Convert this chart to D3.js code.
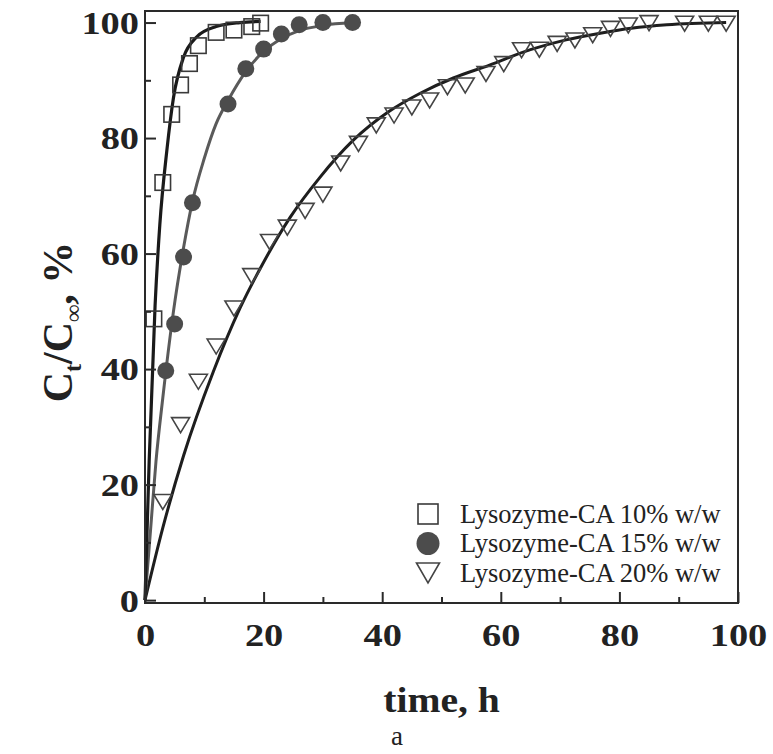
<!DOCTYPE html>
<html>
<head>
<meta charset="utf-8">
<script src="https://cdn.jsdelivr.net/npm/d3@7"></script>
<style>
  html, body { margin: 0; padding: 0; background: #fff; }
  svg { display: block; }
</style>
</head>
<body>
<svg id="chart" width="773" height="754"></svg>
<script>
// ---------- data ----------
const xTickValues = [0, 20, 40, 60, 80, 100];
const yTickValues = [0, 20, 40, 60, 80, 100];
const xMinorTicks = [10, 30, 50, 70, 90];
const yMinorTicks = [10, 30, 50, 70, 90];

const seriesNames = ["Lysozyme-CA 10% w/w", "Lysozyme-CA 15% w/w", "Lysozyme-CA 20% w/w"];

// 10% (open squares)
const t10 = [1.5, 3, 4.5, 6, 7.5, 9, 12, 15, 18, 19.5];
const y10 = [48.7, 72.3, 84.1, 89.2, 92.9, 96.0, 98.3, 98.7, 99.3, 99.9];

// 15% (filled circles)
const t15 = [3.5, 5, 6.5, 8, 14, 17, 20, 23, 26, 30, 35];
const y15 = [39.7, 47.8, 59.4, 68.8, 85.9, 92.0, 95.4, 98.0, 99.6, 100, 100];

// 20% (open down triangles)
const t20 = [3, 6, 9, 12, 15, 18, 21, 24, 27, 30, 33, 36, 39, 42, 45, 48, 51, 54, 57.5, 60.5,
             63.5, 66.5, 69.5, 72.5, 75.5, 78.5, 81.5, 85, 91, 95, 98];
const y20 = [17, 30.3, 37.8, 43.9, 50.5, 56.1, 62, 64.5, 67.4, 70.2, 75.6, 79, 82.2, 83.9, 85.3, 86.5,
             88.8, 89.1, 91.1, 92.8, 95.2, 95.3, 96.3, 96.9, 97.8, 98.9, 99.5, 99.9, 99.8, 99.8, 99.8];

// fitted curves, points
const fit10T = [0, 0.7, 1.7, 2.5, 3.7, 4.8, 6.5, 8.7, 12, 16, 19.5];
const fit10Y = [0, 24, 51, 65, 78, 87, 94, 97.5, 99.3, 100, 100.2];

const fit15T = [0, 1, 1.85, 3, 4.8, 6.5, 8, 10, 12, 14, 17, 20, 23, 26, 30, 35];
const fit15Y = [0, 13, 24, 35, 50, 61, 69, 76.5, 82.5, 86.5, 91.5, 95, 97.2, 98.6, 99.5, 100];

const fit20T = [0, 3, 6.5, 11.5, 16, 20, 24.5, 29.5, 35, 41, 46.5, 52, 58, 65, 71, 77, 82, 88, 98];
const fit20Y = [0, 12.5, 25, 39.5, 50.5, 58.5, 66.3, 73.2, 79.5, 84.5, 87.8, 90.4, 92.6, 95.3, 97, 98.2, 99, 99.6, 100];

// ---------- layout ----------
const svg = d3.select("#chart");
const L = 145, R = 738, T = 11, B = 603;

const x = d3.scaleLinear().domain([0, 100]).range([L, R]);
const y = d3.scaleLinear().domain([-0.5, 102]).range([B, T]);

const serif = "'Liberation Serif', 'Times New Roman', serif";
const axisColor = "#2a2a2a";

// ---------- lines ----------
const line = d3.line().x(d => x(d[0])).y(d => y(d[1])).curve(d3.curveMonotoneX);
const zip = (a, b) => a.map((v, i) => [v, b[i]]);

const gPlot = svg.append("g");
gPlot.append("path").attr("d", line(zip(fit20T, fit20Y)))
  .attr("fill", "none").attr("stroke", "#1e1e1e").attr("stroke-width", 3);
gPlot.append("path").attr("d", line(zip(fit15T, fit15Y)))
  .attr("fill", "none").attr("stroke", "#5a5a5a").attr("stroke-width", 3);
gPlot.append("path").attr("d", line(zip(fit10T, fit10Y)))
  .attr("fill", "none").attr("stroke", "#1a1a1a").attr("stroke-width", 3.2);

// ---------- markers ----------
const sq = 15.5, triW = 18, triH = 15, circR = 8.5;
function triPath(w, h) {
  return `M${-w/2},${-h/2}L${w/2},${-h/2}L0,${h/2}Z`;
}

gPlot.selectAll("rect.s10").data(zip(t10, y10)).join("rect")
  .attr("class", "s10")
  .attr("x", d => x(d[0]) - sq/2).attr("y", d => y(d[1]) - sq/2)
  .attr("width", sq).attr("height", sq)
  .attr("fill", "none").attr("stroke", "#3a3a3a").attr("stroke-width", 1.6);

gPlot.selectAll("circle.s15").data(zip(t15, y15)).join("circle")
  .attr("class", "s15")
  .attr("cx", d => x(d[0])).attr("cy", d => y(d[1])).attr("r", circR)
  .attr("fill", "#4c4c4c");

gPlot.selectAll("path.s20").data(zip(t20, y20)).join("path")
  .attr("class", "s20")
  .attr("transform", d => `translate(${x(d[0])},${y(d[1])})`)
  .attr("d", triPath(triW, triH))
  .attr("fill", "none").attr("stroke", "#444").attr("stroke-width", 1.6);

// ---------- frame ----------
svg.append("rect").attr("x", L).attr("y", T).attr("width", R - L).attr("height", B - T)
  .attr("fill", "none").attr("stroke", axisColor).attr("stroke-width", 2);

// ---------- axes ----------
const gx = svg.append("g").attr("transform", `translate(0,${B})`)
  .call(d3.axisBottom(x).tickValues(xTickValues).tickSizeInner(-11).tickSizeOuter(0)
        .tickFormat(d3.format("d")));
const gxm = svg.append("g").attr("transform", `translate(0,${B})`)
  .call(d3.axisBottom(x).tickValues(xMinorTicks).tickSizeInner(-6).tickSizeOuter(0).tickFormat(""));

const gy = svg.append("g").attr("transform", `translate(${L},0)`)
  .call(d3.axisLeft(y).tickValues(yTickValues).tickSizeInner(-11).tickSizeOuter(0)
        .tickFormat(d3.format("d")));
const gym = svg.append("g").attr("transform", `translate(${L},0)`)
  .call(d3.axisLeft(y).tickValues(yMinorTicks).tickSizeInner(-6).tickSizeOuter(0).tickFormat(""));

[gx, gxm, gy, gym].forEach(g => {
  g.select(".domain").remove();
  g.selectAll(".tick line").attr("stroke", axisColor).attr("stroke-width", 2);
});

gx.selectAll(".tick text")
  .attr("font-family", serif).attr("font-weight", "bold").attr("font-size", 32)
  .attr("fill", "#222").attr("y", 0).attr("dy", 43)
  .attr("transform", "scale(1.2,1)");

gy.selectAll(".tick text")
  .attr("font-family", serif).attr("font-weight", "bold").attr("font-size", 32)
  .attr("fill", "#222").attr("x", -6 / 1.2).attr("dy", "0.34em")
  .attr("transform", "scale(1.2,1)");

// ---------- axis titles ----------
svg.append("text")
  .attr("transform", `translate(${(L + R) / 2},712) scale(1.1,1)`)
  .attr("text-anchor", "middle")
  .attr("font-family", serif).attr("font-weight", "bold").attr("font-size", 36)
  .attr("fill", "#222")
  .text("time, h");

const yt = svg.append("text")
  .attr("transform", `translate(72,${(T + B) / 2 + 15}) rotate(-90)`)
  .attr("text-anchor", "middle")
  .attr("font-family", serif).attr("font-weight", "bold").attr("font-size", 42)
  .attr("fill", "#222");
yt.append("tspan").text("C");
yt.append("tspan").attr("font-size", 24).attr("dy", 9).text("t");
yt.append("tspan").attr("dy", -9).text("/C");
yt.append("tspan").attr("font-size", 24).attr("dy", 9).text("\u221E");
yt.append("tspan").attr("dy", -9).text(", %");

svg.append("text")
  .attr("x", 397).attr("y", 745)
  .attr("text-anchor", "middle")
  .attr("font-family", serif).attr("font-size", 27)
  .attr("fill", "#222")
  .text("a");

// ---------- legend ----------
const legX = 428, legTextX = 460, legY0 = 514, legDy = 29.5;
const gl = svg.append("g");
gl.append("rect").attr("x", legX - 10).attr("y", legY0 - 10).attr("width", 20).attr("height", 20)
  .attr("fill", "none").attr("stroke", "#3a3a3a").attr("stroke-width", 1.6);
gl.append("circle").attr("cx", legX).attr("cy", legY0 + legDy).attr("r", 11.5).attr("fill", "#4c4c4c");
gl.append("path").attr("transform", `translate(${legX},${legY0 + 2 * legDy})`)
  .attr("d", triPath(23, 20)).attr("fill", "none").attr("stroke", "#444").attr("stroke-width", 1.6);

gl.selectAll("text").data(seriesNames).join("text")
  .attr("x", legTextX).attr("y", (d, i) => legY0 + i * legDy + 5)
  .attr("dy", "0.15em")
  .attr("font-family", serif).attr("font-size", 26.5).attr("fill", "#222")
  .text(d => d);
</script>
</body>
</html>
